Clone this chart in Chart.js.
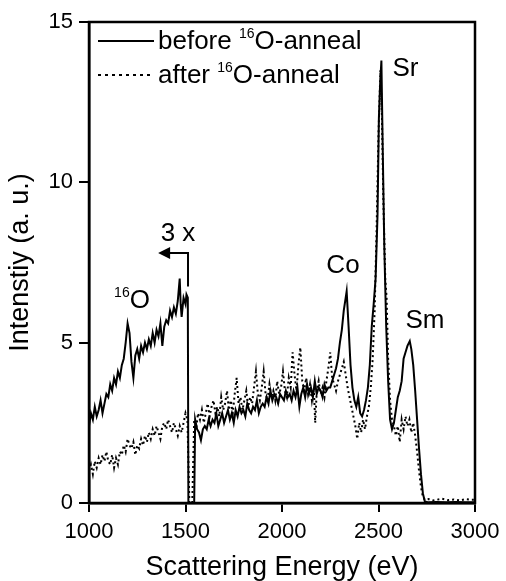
<!DOCTYPE html>
<html>
<head>
<meta charset="utf-8">
<script src="https://cdn.jsdelivr.net/npm/chart.js@4.4.0/dist/chart.umd.min.js"></script>
<style>
  html, body { margin: 0; padding: 0; background: #fff; }
  #wrap { width: 506px; height: 581px; }
</style>
</head>
<body>
<div id="wrap"><canvas id="chart"></canvas></div>
<script>
// before 16O-anneal (solid), left of 1500 eV shown x3
const energyBefore = [1000,1010,1020,1030,1040,1050,1060,1070,1080,1090,1100,1110,1120,1130,1140,1150,1160,1170,1180,1190,
  1200,1210,1220,1230,1240,1250,1260,1270,1280,1290,1300,1310,1320,1330,1340,1350,1360,1370,1380,1390,
  1400,1410,1420,1430,1440,1450,1460,1470,1475,1480,1490,1500,1505,1512,1515,1545,1550,1560,1570,1580,
  1590,1600,1610,1620,1630,1640,1650,1660,1670,1680,1690,1700,1710,1720,1730,1740,1750,1760,1770,1780,
  1790,1800,1810,1820,1830,1840,1850,1860,1870,1880,1890,1900,1910,1920,1930,1940,1950,1960,1970,1980,
  1990,2000,2010,2020,2030,2040,2050,2060,2070,2080,2090,2100,2110,2120,2130,2140,2150,2160,2170,2180,
  2190,2200,2210,2220,2230,2240,2250,2260,2270,2280,2290,2300,2310,2320,2335,2345,2355,2365,2375,2385,
  2395,2405,2415,2425,2435,2445,2455,2465,2475,2485,2495,2502,2508,2515,2522,2530,2540,2550,2560,2570,
  2580,2590,2600,2610,2620,2630,2640,2650,2662,2670,2680,2690,2700,2710,2720,2730,2740,2760,2800,2850,
  2900,2950,3000];
const intensityBefore = [2.4,2.8,2.6,3.0,2.7,2.9,3.2,2.8,3.1,3.4,3.3,3.7,3.5,3.9,3.7,4.1,3.9,4.3,4.5,5.0,
  5.6,5.3,4.4,3.9,4.6,4.8,4.5,4.9,4.7,5.0,4.8,5.1,4.9,5.3,5.0,5.4,5.2,5.6,4.9,5.5,
  5.7,5.6,6.0,5.8,6.1,5.9,6.3,7.0,6.2,5.8,6.4,6.2,6.5,6.4,0,0,2.6,2.3,2.2,1.96,
  2.3,2.4,2.3,2.6,2.4,2.6,2.5,2.8,2.4,2.6,2.8,2.5,2.7,2.9,2.6,2.8,2.5,2.9,2.7,3.0,
  2.8,2.9,2.7,3.1,2.9,2.8,3.0,2.9,3.2,2.8,3.0,3.1,3.0,3.3,3.1,3.5,3.2,3.4,3.3,3.1,
  3.4,3.3,3.2,3.5,3.3,3.4,3.2,3.5,3.3,3.6,3.0,3.4,3.6,3.3,3.7,3.4,3.6,3.3,3.8,3.4,
  3.6,3.5,3.3,3.7,3.5,3.6,3.6,3.8,4.0,4.2,4.5,5.0,5.4,6.0,6.6,5.5,4.3,3.6,3.2,3.0,
  3.3,2.8,2.7,2.9,3.2,3.6,4.3,5.5,6.2,7.0,9.0,12.0,13.0,13.8,11.0,8.0,5.5,3.8,2.6,2.3,
  2.5,2.9,3.3,3.5,3.8,4.5,4.7,4.9,5.05,4.8,4.3,3.5,2.6,1.7,0.9,0.3,0.05,0.02,0.03,0.02,
  0.03,0.02,0.02];

// after 16O-anneal (dotted)
const energyAfter = [1000,1010,1020,1030,1040,1050,1060,1070,1080,1090,1100,1110,1120,1130,1140,1150,1160,1170,1180,1190,
  1200,1210,1220,1230,1240,1250,1260,1270,1280,1290,1300,1310,1320,1330,1340,1350,1360,1370,1380,1390,
  1400,1410,1420,1430,1440,1450,1460,1470,1480,1490,1500,1510,1520,1535,1545,1555,1565,1575,1585,1595,
  1605,1615,1625,1635,1645,1655,1665,1675,1685,1695,1705,1715,1725,1735,1745,1755,1765,1775,1785,1795,
  1805,1815,1825,1835,1845,1855,1865,1875,1885,1895,1905,1915,1925,1935,1945,1955,1965,1975,1985,1995,
  2005,2015,2025,2035,2045,2055,2065,2075,2085,2095,2105,2115,2125,2135,2145,2155,2165,2172,2180,2190,
  2200,2210,2220,2230,2240,2250,2260,2270,2280,2290,2300,2310,2320,2330,2340,2350,2360,2370,2380,2390,
  2400,2410,2420,2430,2440,2450,2460,2470,2480,2490,2500,2510,2518,2525,2535,2542,2550,2560,2570,2580,
  2590,2600,2610,2620,2630,2640,2650,2660,2670,2680,2690,2700,2710,2720,2730,2740,2760,2780,2800,2830,
  2860,2890,2920,2950,2980,3000];
const intensityAfter = [1.0,1.2,0.9,1.3,1.1,1.4,1.2,1.5,1.3,1.6,1.3,1.2,1.5,1.1,1.4,1.2,1.6,1.5,1.8,1.6,
  2.0,1.8,1.7,1.9,1.5,1.8,1.7,2.0,1.8,2.1,1.9,2.2,2.0,2.3,2.1,2.4,2.2,2.0,2.4,2.5,
  2.3,2.6,2.4,2.2,2.5,2.3,2.1,2.4,2.2,2.5,2.8,2.6,0,0,2.6,2.3,2.8,2.6,2.9,2.5,
  2.8,3.1,2.7,3.0,3.2,2.8,3.0,2.7,3.3,2.9,3.1,3.5,2.9,3.2,2.8,3.4,3.9,3.1,3.3,2.9,
  3.2,3.5,3.0,3.3,3.1,3.6,4.1,3.4,3.2,3.6,4.1,3.4,3.2,3.7,3.3,3.5,3.2,3.8,3.4,3.6,
  4.1,3.5,3.3,3.9,3.6,4.7,4.0,3.5,4.3,4.85,3.8,3.5,3.9,3.4,3.7,3.2,3.6,2.5,3.5,3.8,
  3.4,3.6,3.3,3.8,4.2,4.7,3.9,3.7,3.5,3.8,4.0,4.2,4.4,4.0,3.6,3.3,3.0,2.7,2.4,2.0,
  2.5,2.2,2.6,2.3,2.7,3.0,3.6,4.5,6.0,8.5,11.5,13.5,12.0,9.5,7.0,6.4,4.5,3.2,2.6,2.4,
  2.1,2.4,1.9,2.6,2.3,2.7,2.4,2.6,2.2,2.5,2.1,1.6,1.0,0.5,0.2,0.1,0.12,0.08,0.1,0.13,
  0.09,0.11,0.08,0.12,0.1,0.1];

const xTicks = [1000, 1500, 2000, 2500, 3000];
const yTicks = [0, 5, 10, 15];

const FONT = '"Liberation Sans", Arial, sans-serif';

function toPoints(xs, ys) {
  return xs.map((x, i) => ({ x: x, y: ys[i] }));
}

// draws text with a superscript part, e.g. "before ^16O-anneal"
function drawParts(ctx, parts, x, y, size) {
  parts.forEach(p => {
    if (p.sup) {
      ctx.font = Math.round(size * 0.52) + 'px ' + FONT;
      ctx.fillText(p.t, x, y - size * 0.3);
    } else {
      ctx.font = size + 'px ' + FONT;
      ctx.fillText(p.t, x, y);
    }
    x += ctx.measureText(p.t).width;
  });
}

const extras = {
  id: 'extras',
  afterDraw(chart) {
    const ctx = chart.ctx;
    const a = chart.chartArea;
    const xs = chart.scales.x, ys = chart.scales.y;
    ctx.save();
    // frame
    ctx.strokeStyle = '#000';
    ctx.lineWidth = 2.5;
    ctx.strokeRect(a.left, a.top, a.right - a.left, a.bottom - a.top);

    ctx.fillStyle = '#000';
    ctx.textBaseline = 'middle';
    ctx.textAlign = 'left';

    // legend
    ctx.lineWidth = 2;
    ctx.beginPath();
    ctx.moveTo(98, 41); ctx.lineTo(154, 41);
    ctx.stroke();
    drawParts(ctx, [{t: 'before '}, {t: '16', sup: true}, {t: 'O-anneal'}], 158, 42, 26);
    ctx.setLineDash([3, 4]);
    ctx.beginPath();
    ctx.moveTo(98, 75); ctx.lineTo(154, 75);
    ctx.stroke();
    ctx.setLineDash([]);
    drawParts(ctx, [{t: 'after '}, {t: '16', sup: true}, {t: 'O-anneal'}], 158, 76, 26);

    // peak labels
    ctx.font = '26px ' + FONT;
    ctx.textAlign = 'center';
    ctx.fillText('Sr', xs.getPixelForValue(2640), ys.getPixelForValue(13.55));
    ctx.fillText('Co', xs.getPixelForValue(2316), ys.getPixelForValue(7.4));
    ctx.fillText('Sm', xs.getPixelForValue(2741), ys.getPixelForValue(5.67));
    ctx.fillText('3 x', xs.getPixelForValue(1461), ys.getPixelForValue(8.4));
    ctx.textAlign = 'left';
    drawParts(ctx, [{t: '16', sup: true}, {t: 'O'}], xs.getPixelForValue(1130), ys.getPixelForValue(6.3), 26);

    // "3 x" arrow
    const ax = xs.getPixelForValue(1513), ay = ys.getPixelForValue(7.8);
    const bx = xs.getPixelForValue(1358), by = ys.getPixelForValue(6.75);
    ctx.lineWidth = 2;
    ctx.beginPath();
    ctx.moveTo(ax, by); ctx.lineTo(ax, ay); ctx.lineTo(bx + 8, ay);
    ctx.stroke();
    ctx.beginPath();
    ctx.moveTo(bx, ay); ctx.lineTo(bx + 12, ay - 6); ctx.lineTo(bx + 12, ay + 6);
    ctx.closePath();
    ctx.fill();
    ctx.restore();
  }
};

new Chart(document.getElementById('chart'), {
  type: 'scatter',
  data: {
    datasets: [{
      label: 'before 16O-anneal',
      data: toPoints(energyBefore, intensityBefore),
      showLine: true,
      borderColor: '#000',
      borderWidth: 2,
      pointRadius: 0,
      tension: 0
    }, {
      label: 'after 16O-anneal',
      data: toPoints(energyAfter, intensityAfter),
      showLine: true,
      borderColor: '#000',
      borderWidth: 2,
      borderDash: [2, 3],
      pointRadius: 0,
      tension: 0
    }]
  },
  options: {
    responsive: true,
    maintainAspectRatio: false,
    animation: false,
    layout: { padding: { top: 22, right: 31, left: 0, bottom: 0 } },
    plugins: { legend: { display: false }, tooltip: { enabled: false } },
    scales: {
      x: {
        type: 'linear',
        min: 1000, max: 3000,
        afterBuildTicks: s => { s.ticks = xTicks.map(v => ({ value: v })); },
        afterFit: s => { s.height = 78; s.paddingLeft = 0; s.paddingRight = 0; },
        grid: { drawOnChartArea: false, color: '#000', lineWidth: 2, tickLength: 9 },
        border: { color: '#000', width: 2.5 },
        ticks: { color: '#000', font: { family: FONT, size: 22 }, padding: 7, maxRotation: 0, callback: v => String(v) },
        title: { display: true, text: 'Scattering Energy (eV)', color: '#000', font: { family: FONT, size: 27, lineHeight: 1 }, padding: { top: 0, bottom: 0 } }
      },
      y: {
        min: 0, max: 15,
        afterBuildTicks: s => { s.ticks = yTicks.map(v => ({ value: v })); },
        afterFit: s => { s.width = 89; s.paddingTop = 0; s.paddingBottom = 0; },
        grid: { drawOnChartArea: false, color: '#000', lineWidth: 2, tickLength: 10 },
        border: { color: '#000', width: 2.5 },
        ticks: { color: '#000', font: { family: FONT, size: 22 }, padding: 6, callback: v => String(v) },
        title: { display: true, text: 'Intenstiy (a. u.)', color: '#000', font: { family: FONT, size: 27 }, padding: { bottom: 2 } }
      }
    }
  },
  plugins: [extras]
});
</script>
</body>
</html>
